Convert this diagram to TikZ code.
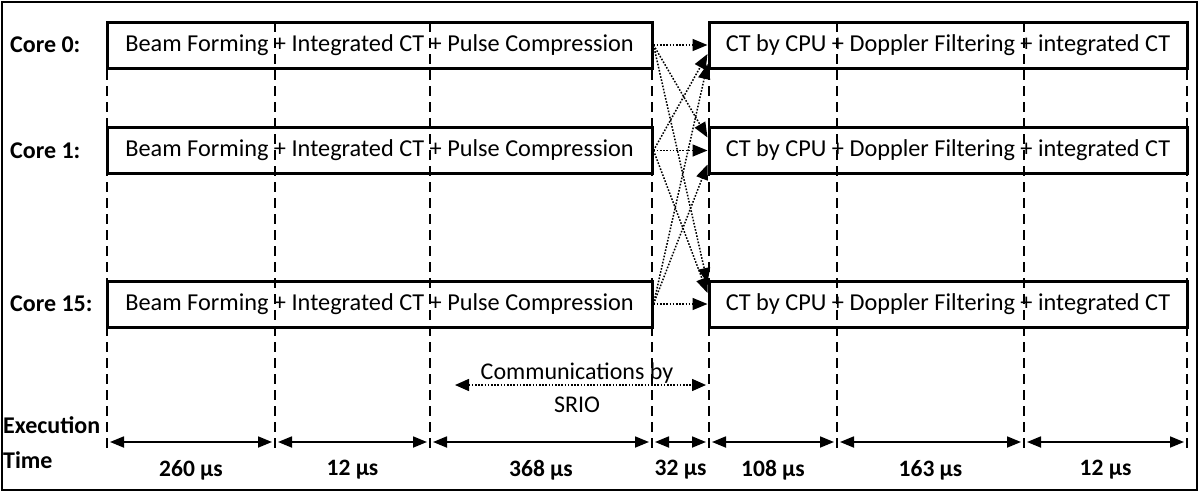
\documentclass[tikz,border=0pt]{standalone}
\usepackage{fontspec}
\setmainfont{Carlito}
\usetikzlibrary{arrows.meta,positioning,calc}

\tikzset{
  stage/.style={draw, line width=3pt, inner sep=0pt, minimum height=46pt, font=\fontsize{24.3}{28}\selectfont},
  corelabel/.style={anchor=west, inner sep=0pt, font=\bfseries\fontsize{24}{28}\selectfont},
  guide/.style={line width=1.4pt, dash pattern=on 10pt off 6pt},
  comm/.style={line width=1.5pt, dash pattern=on 1.6pt off 1.6pt, -{Triangle[length=15pt,width=12pt]}},
  span/.style={line width=1.8pt, {Triangle[length=14pt,width=11pt]}-{Triangle[length=14pt,width=11pt]}, shorten <=3pt, shorten >=3pt},
  spanlabel/.style={font=\bfseries\fontsize{23.5}{28}\selectfont}
}

\begin{document}
\begin{tikzpicture}[x=1pt,y=-1pt]
  \useasboundingbox (0,0) rectangle (1200,493);
  \draw[line width=2pt] (2,2) rectangle (1197,490);
  \foreach \r/\y in {0/45, 1/150.5, 15/304}
  {
    \node[stage, minimum width=545pt] (b\r) at (379.5,\y) {Beam Forming + Integrated CT + Pulse Compression};
    \node[stage, minimum width=478pt, right=54pt of b\r] (c\r) {CT by CPU + Doppler Filtering + integrated CT};
    \node[corelabel] (k\r) at (10,\y) {Core \r:};
  }
  \foreach \x [count=\i] in {107,275,430,652,709,837,1024,1187}
  {
    \coordinate (t\i) at (\x,442);
    \draw[guide] (\x,22) -- (\x,448);
  }
  \foreach \s/\t/\o in {0/0/0, 1/0/9, 15/0/19, 0/1/-13, 1/1/0, 15/1/14, 0/15/-21, 1/15/-11, 15/15/0}
    \draw[comm] (b\s.east) -- ($(c\t.west)+(0,\o)$);
  \node[font=\fontsize{24}{33}\selectfont, align=center] (srio) at (577,388) {Communications by\\SRIO};
  \coordinate (ca) at (455,385);
  \coordinate (cb) at (706,385);
  \draw[comm, {Triangle[length=14pt,width=12pt]}-{Triangle[length=14pt,width=12pt]}] (ca) -- (cb);
  \node[corelabel] (exec) at (3,425) {Execution};
  \node[corelabel] (time) at (3,460) {Time};
  \foreach \a/\b/\lab in {1/2/260, 2/3/12, 3/4/368, 4/5/32, 5/6/108, 6/7/163, 7/8/12}
  {
    \draw[span] (t\a) -- (t\b);
    \node[spanlabel] at ($(t\a)!0.5!(t\b)+(0,28)$) {\lab\ µs};
  }
\end{tikzpicture}
\end{document}
